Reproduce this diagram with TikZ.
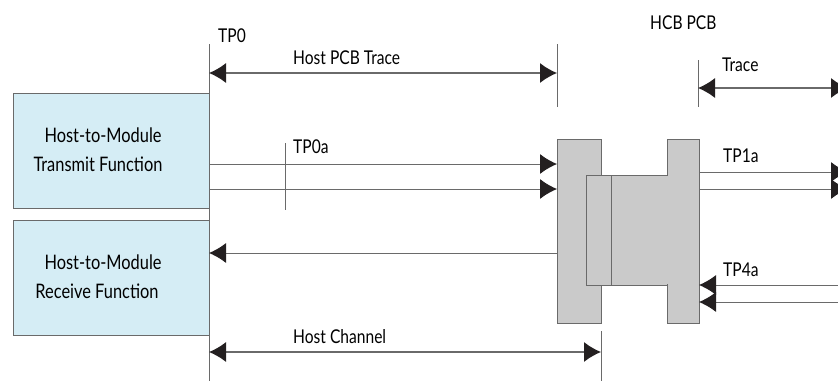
\documentclass[tikz,border=0pt]{standalone}
\usepackage{fontspec}
\setmainfont[FakeStretch=0.82]{Lato}
\usetikzlibrary{arrows.meta}
\definecolor{boxblue}{HTML}{D5EDF5}
\definecolor{connectorgray}{HTML}{CACACA}
\definecolor{linegray}{HTML}{6A6A6A}
\definecolor{tipblack}{HTML}{231F20}
\tikzset{
    funcbox/.style={draw=linegray, line width=1pt, fill=boxblue, minimum width=196pt, minimum height=115pt},
    functext/.style={align=center, inner sep=0pt, font=\fontsize{20}{29}\selectfont, text=black},
    lbl/.style={anchor=west, inner sep=0pt, font=\fontsize{19}{22}\selectfont, text=black},
    tip/.style={-{Latex[length=17pt,width=20pt,color=tipblack]}, draw=linegray, line width=1pt},
    dbltip/.style={{Latex[length=17pt,width=20pt,color=tipblack]}-{Latex[length=17pt,width=20pt,color=tipblack]}, draw=linegray, line width=1.2pt},
    guide/.style={draw=linegray, line width=1pt},
    part/.style={draw=linegray, line width=1pt, fill=connectorgray},
}
\begin{document}
\begin{tikzpicture}[x=1pt,y=-1pt]
    \useasboundingbox (0,0) rectangle (838,381);

    \node [funcbox] (TX) at (111,150.5) {};
    \node [funcbox] (RX) at (111,278) {};
    \node [functext] (TXtext) at (98,150) {\hspace{10pt}Host-to-Module\\Transmit Function};
    \node [functext] (RXtext) at (97,277) {\hspace{12pt}Host-to-Module\\Receive Function};

    % connector
    \draw [part] (557,139) rectangle (601,323);
    \draw [part] (667,139) rectangle (699,323);
    \draw [part] (586,175) rectangle (667,285);
    \path [fill=connectorgray] (612,176) rectangle (699,284);
    \path [fill=connectorgray] (668,140) rectangle (698,322);
    \draw [guide] (611,175) -- (611,285);
    \draw [guide] (667,139) -- (667,175);
    \draw [guide] (667,285) -- (667,323);

    % reference lines
    \coordinate (a) at (209,44);   \coordinate (b) at (209,381);
    \coordinate (c) at (557,44);   \coordinate (d) at (557,107);
    \coordinate (e) at (698,60);   \coordinate (f) at (698,107);
    \coordinate (g) at (601,331);  \coordinate (h) at (601,381);
    \coordinate (i) at (285,143);  \coordinate (j) at (285,210);
    \path [guide] (a) edge (b);
    \path [guide] (c) edge (d);
    \path [guide] (e) edge (f);
    \path [guide] (g) edge (h);
    \path [guide] (i) edge (j);

    % measures
    \coordinate (p1) at (209,73);  \coordinate (p2) at (557,73);
    \coordinate (p3) at (698,88);  \coordinate (p4) at (848,88);
    \coordinate (p5) at (209,352); \coordinate (p6) at (601,352);
    \draw [dbltip] (p1) -- (p2);
    \draw [dbltip] (p3) -- (p4);
    \draw [dbltip] (p5) -- (p6);

    % signals
    \coordinate (s1) at (209,164); \coordinate (s2) at (557,164);
    \coordinate (s3) at (209,189); \coordinate (s4) at (557,189);
    \coordinate (s5) at (557,253); \coordinate (s6) at (209,253);
    \coordinate (s7) at (699,172); \coordinate (s8) at (848,172);
    \coordinate (s9) at (699,189); \coordinate (s10) at (848,189);
    \coordinate (s11) at (838,285); \coordinate (s12) at (699,285);
    \coordinate (s13) at (838,302); \coordinate (s14) at (699,302);
    \draw [tip] (s1) -- (s2);
    \draw [tip] (s3) -- (s4);
    \draw [tip] (s5) -- (s6);
    \draw [tip] (s7) -- (s8);
    \draw [tip] (s9) -- (s10);
    \draw [tip] (s11) -- (s12);
    \draw [tip] (s13) -- (s14);

    \node [lbl] (TP0) at (218,36) {TP0};
    \node [lbl] (HPT) at (293,58) {Host PCB Trace};
    \node [lbl] (HCB) at (650,23) {HCB PCB};
    \node [lbl] (TR) at (722,65) {Trace};
    \node [lbl] (TP0a) at (293,147) {TP0a};
    \node [lbl] (TP1a) at (723,156) {TP1a};
    \node [lbl] (TP4a) at (723,270) {TP4a};
    \node [lbl] (HC) at (293,337) {Host Channel};
\end{tikzpicture}
\end{document}
